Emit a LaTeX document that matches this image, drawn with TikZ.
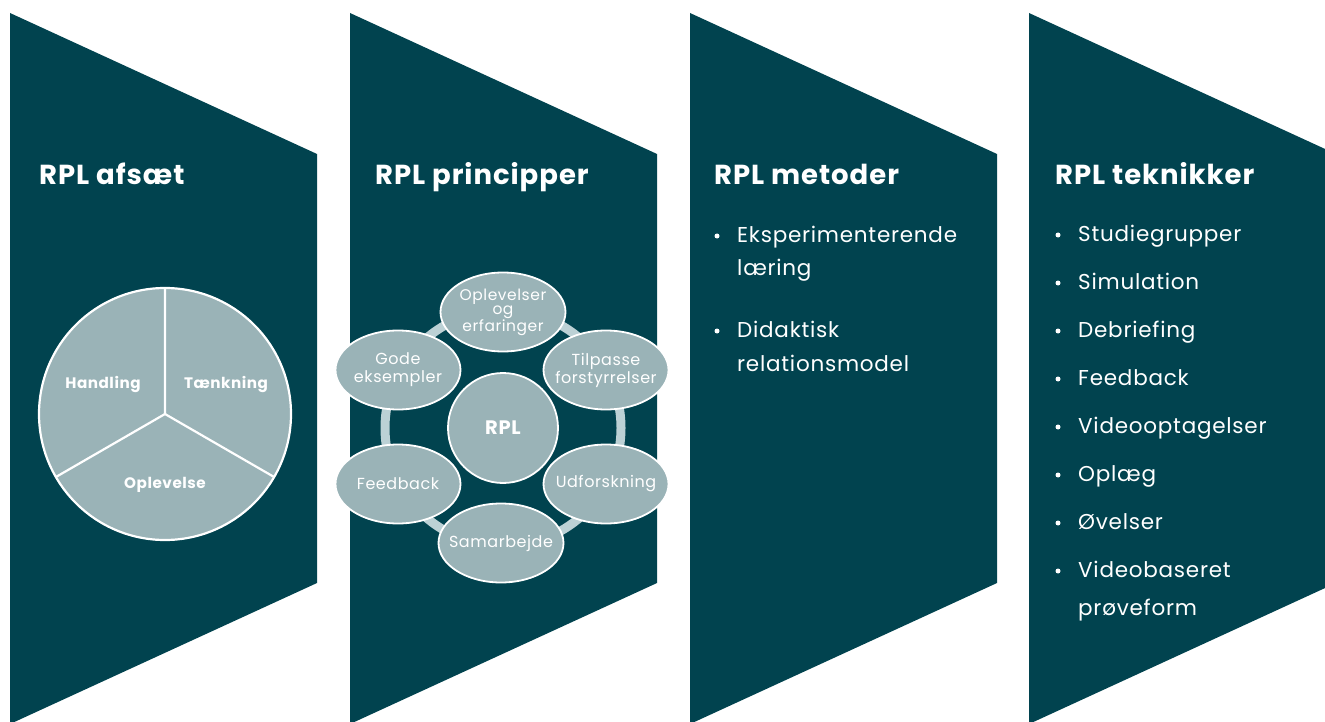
\documentclass[tikz,border=0pt]{standalone}
\usepackage{fontspec}
\setmainfont{Poppins}[LetterSpace=3.5]
\usetikzlibrary{shapes.geometric}
\definecolor{darkteal}{HTML}{01434F}
\definecolor{piefill}{HTML}{9AB3B7}
\definecolor{ringcol}{HTML}{BCD1D5}
\begin{document}
\begin{tikzpicture}[x=1pt,y=-1pt,
  panel/.style={fill=darkteal},
  title/.style={anchor=base west,text=white,font=\fontsize{27.5}{30}\selectfont\bfseries,inner sep=0},
  item/.style={anchor=base west,text=white,font=\fontsize{21.5}{24}\selectfont,inner sep=0},
  bul/.style={circle,fill=white,inner sep=0,minimum size=5pt},
  pielabel/.style={text=white,font=\fontsize{15.2}{16}\selectfont\bfseries},
  ell/.style={ellipse,draw=white,line width=1.8pt,fill=piefill,minimum width=125pt,minimum height=79pt,inner sep=0},
  elltext/.style={text=white,font=\fontsize{16}{18}\selectfont,align=center,inner sep=0},
]
\useasboundingbox (0,0) rectangle (1325,722);
\foreach \x in {10,350,690,1029}
  \fill[panel] (\x,13) -- (\x+307,154) -- (\x+307,583) -- (\x,724) -- cycle;

% titles
\node[title] (t1) at (39,185) {RPL afsæt};
\node[title] (t2) at (375,185) {RPL principper};
\node[title] (t3) at (714,185) {RPL metoder};
\node[title] (t4) at (1055,185) {RPL teknikker};

% pie
\coordinate (pc) at (165,414);
\fill[piefill] (pc) circle[radius=126pt];
\draw[white,line width=2.2pt] (pc) circle[radius=126pt];
\draw[white,line width=2.2pt] (pc) -- ++(0,-126) (pc) -- ++(-109.1,63) (pc) -- ++(109.1,63);
\node[pielabel] (h) at (103,385) {Handling};
\node[pielabel] (tk) at (226,385) {Tænkning};
\node[pielabel] (op) at (165,485) {Oplevelse};

% cycle
\coordinate (cc) at (503,428);
\draw[ringcol,line width=9pt] (cc) circle[radius=118pt];
\node[circle,draw=white,line width=1.8pt,fill=piefill,minimum size=110pt,text=white,font=\fontsize{19.5}{22}\selectfont\bfseries] (rpl) at (cc) {RPL};
\node[ell] (e1) at (503,312) {};
\node[ell] (e2) at (606,370) {};
\node[ell] (e3) at (606,484) {};
\node[ell] (e4) at (501,543) {};
\node[ell] (e5) at (398,484) {};
\node[ell] (e6) at (398,370) {};
\node[elltext,font=\fontsize{15.5}{14}\selectfont] (l1) at (e1) {Oplevelser\\og\\erfaringer};
\node[elltext] (l2) at (e2) {Tilpasse\\forstyrrelser};
\node[elltext] (l3) at (e3) {Udforskning};
\node[elltext] (l4) at (e4) {Samarbejde};
\node[elltext] (l5) at (e5) {Feedback};
\node[elltext] (l6) at (e6) {Gode\\eksempler};

% metoder
\node[bul] (mb1) at (717,236) {};
\node[item] (m1) at (737,242) {Eksperimenterende};
\node[item] (m1b) at (737,275) {læring};
\node[bul] (mb2) at (717,331) {};
\node[item] (m2) at (737,337) {Didaktisk};
\node[item] (m2b) at (737,371) {relationsmodel};

% teknikker
\foreach \t [count=\i from 0] in {Studiegrupper,Simulation,Debriefing,Feedback,Videooptagelser,Oplæg,Øvelser,Videobaseret}{
  \node[bul] (kb\i) at (1058,235+48*\i) {};
  \node[item] (k\i) at (1078,241+48*\i) {\t};
}
\node[item] (k8) at (1078,615) {prøveform};
\end{tikzpicture}
\end{document}
